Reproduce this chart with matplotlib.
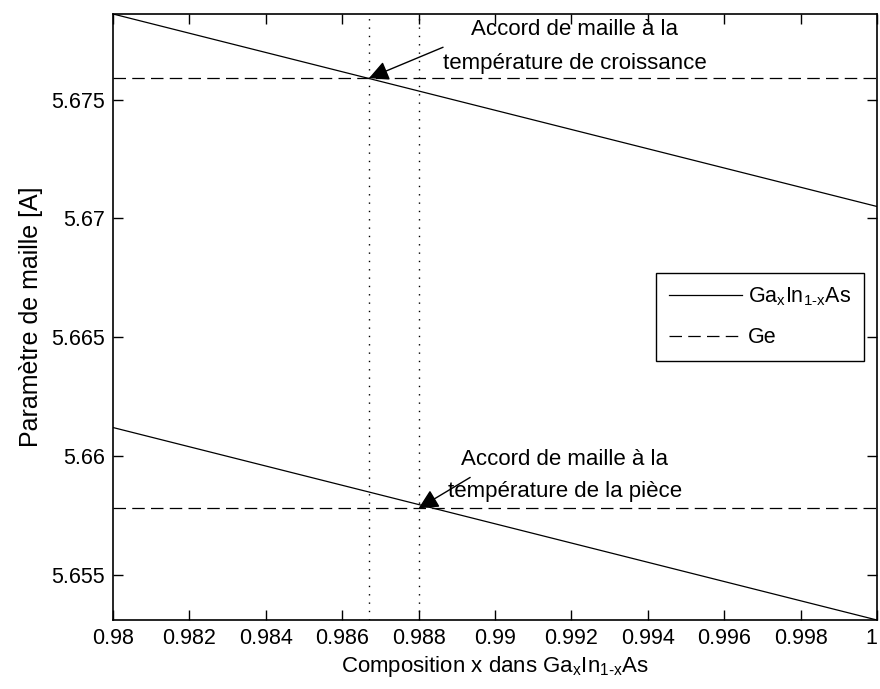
import numpy as np
import matplotlib.pyplot as plt

plt.rcParams['font.family'] = ['Liberation Sans', 'DejaVu Sans']
plt.rcParams['mathtext.fontset'] = 'custom'
plt.rcParams['mathtext.rm'] = 'Liberation Sans'

# composition x (bornes du graphe)
x_comp = [0.98, 1.0]
# parametre de maille GaInAs [A]
a_gainas_croissance = [5.6786, 5.6705]
a_gainas_piece = [5.6612, 5.6531]
# parametre de maille Ge [A]
a_ge_croissance = 5.6759
a_ge_piece = 5.6578
# compositions en accord de maille
x_accord = [0.9867, 0.9880]

xticks = [0.98, 0.982, 0.984, 0.986, 0.988, 0.99, 0.992, 0.994, 0.996, 0.998, 1.0]
xtick_labels = ['0.98', '0.982', '0.984', '0.986', '0.988', '0.99', '0.992',
                '0.994', '0.996', '0.998', '1']
yticks = [5.655, 5.66, 5.665, 5.67, 5.675]
ytick_labels = ['5.655', '5.66', '5.665', '5.67', '5.675']

gainas = r'Ga$_\mathregular{x}$In$_\mathregular{1\text{-}x}$As'

fig = plt.figure(figsize=(8.8, 6.89), dpi=100)
ax = fig.add_axes([0.1284, 0.1001, 0.8682, 0.8796])

fs = 15.5
l1, = ax.plot(x_comp, a_gainas_croissance, 'k-', lw=0.9)
ax.plot(x_comp, a_gainas_piece, 'k-', lw=0.9)
l2, = ax.plot(x_comp, [a_ge_croissance] * 2, 'k--', lw=0.9, dashes=(10, 5))
ax.plot(x_comp, [a_ge_piece] * 2, 'k--', lw=0.9, dashes=(10, 5))
for xa in x_accord:
    ax.axvline(xa, color='k', ls=(0, (1, 5)), lw=1.0)

# annotations
arrow = dict(arrowstyle='-|>,head_length=0.6,head_width=0.3', color='k',
             lw=1.0, mutation_scale=20, shrinkA=0, shrinkB=0)
ax.text(0.99209, 5.67795, 'Accord de maille à la', ha='center', va='center', fontsize=16)
ax.text(0.99209, 5.6765, 'température de croissance', ha='center', va='center', fontsize=16)
ax.annotate('', xy=(x_accord[0], a_ge_croissance), xytext=(0.98864, 5.6772),
            arrowprops=arrow)
ax.text(0.99183, 5.65985, 'Accord de maille à la', ha='center', va='center', fontsize=16)
ax.text(0.99183, 5.6585, 'température de la pièce', ha='center', va='center', fontsize=16)
ax.annotate('', xy=(x_accord[1], a_ge_piece), xytext=(0.98935, 5.6591),
            arrowprops=arrow)

ax.set_xlim(x_comp[0], x_comp[1])
ax.set_ylim(a_gainas_piece[1], a_gainas_croissance[0])
ax.set_xticks(xticks)
ax.set_xticklabels(xtick_labels)
ax.set_yticks(yticks)
ax.set_yticklabels(ytick_labels)
ax.tick_params(direction='in', length=7, width=1, top=True, right=True,
               labelsize=fs, pad=6)
ax.get_xticklabels()[-1].set_horizontalalignment('right')
for s in ax.spines.values():
    s.set_linewidth(1.2)

ax.set_xlabel('Composition x dans ' + gainas, fontsize=16, labelpad=3)
ax.set_ylabel('Paramètre de maille [A]', fontsize=18, labelpad=6)

leg = ax.legend([l1, l2], [gainas, 'Ge'],
                loc='center right', fontsize=fs, fancybox=False, edgecolor='k',
                framealpha=1, handlelength=3.4, handletextpad=0.3,
                labelspacing=0.9, borderpad=0.6, borderaxespad=0.6)
leg.get_frame().set_linewidth(1.0)

fig.savefig('out.png', dpi=100)
